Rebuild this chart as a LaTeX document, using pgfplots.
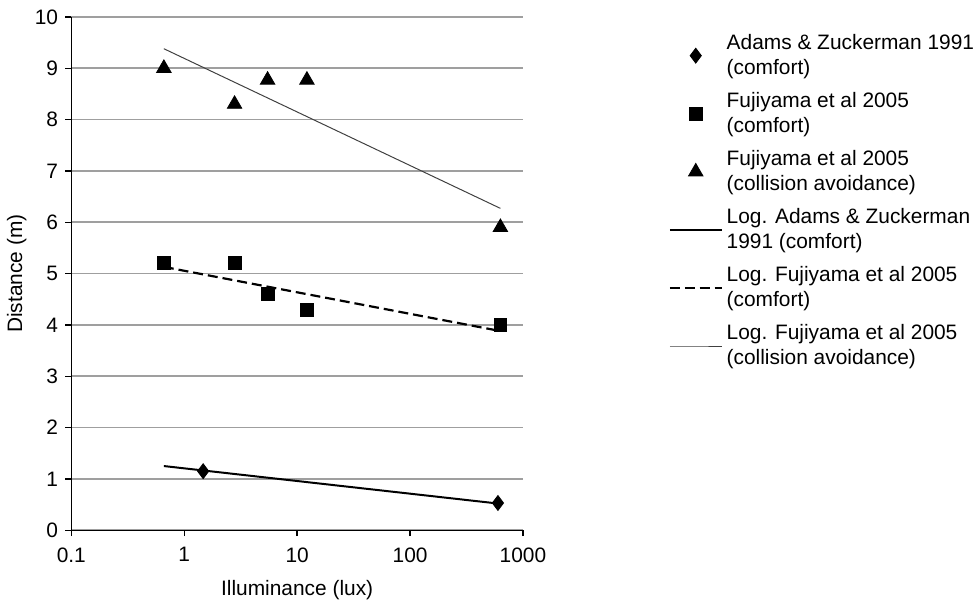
\documentclass[border=0pt]{standalone}
\usepackage{fontspec}
\setmainfont{Liberation Sans}
\usepackage{pgfplots}
\pgfplotsset{compat=1.18}
\begin{document}
\fontsize{10.5}{12.5}\selectfont
\begin{tikzpicture}
\begin{axis}[
    scale only axis,
    width=227pt, height=258pt,
    xmode=log, log basis x=10,
    xmin=0.1, xmax=1000, ymin=0, ymax=10,
    xtick={0.1,1,10,100,1000},
    xticklabels={0.1,1,10,100,1000},
    ytick={0,1,...,10},
    xminorticks=false,
    axis x line*=bottom, axis y line*=left,
    axis line style={-, line width=0.7pt},
    tick align=outside, major tick length=3pt,
    tick style={black, line width=0.7pt},
    ymajorgrids, grid style={gray!75, line width=0.8pt},
    /pgf/number format/assume math mode=true,
    ticklabel style={font=\fontsize{10.5}{12}\selectfont},
    xticklabel style={yshift=-2pt},
    xlabel={Illuminance (lux)}, ylabel={Distance (m)},
    label style={font=\fontsize{10.5}{12}\selectfont},
    ylabel shift=-3pt, xlabel shift=2pt,
    legend style={at={(1.322,0.975)}, anchor=north west, draw=none, fill=none,
        cells={align=left, anchor=west, inner xsep=0.5pt}, row sep=3.5pt, inner sep=0pt,
        font=\fontsize{10.5}{12.5}\selectfont},
    legend image code/.code={\draw[mark repeat=2,mark phase=2] plot coordinates {(0pt,0pt) (13pt,0pt) (26pt,0pt)};},
]
\addplot[only marks, mark=diamond*, mark size=3.75pt, black] coordinates {(1.47,1.15) (600,0.53)};
\addlegendentry{Adams \& Zuckerman 1991\\(comfort)}
\addplot[only marks, mark=square*, mark size=3.25pt, black] coordinates {(0.66,5.2) (2.79,5.2) (5.47,4.6) (12.2,4.3) (631,4.0)};
\addlegendentry{Fujiyama et al 2005\\(comfort)}
\addplot[only marks, mark=triangle*, mark size=4.2pt, black] coordinates {(0.66,9.0) (2.79,8.3) (5.47,8.77) (12.2,8.77) (631,5.9)};
\addlegendentry{Fujiyama et al 2005\\(collision avoidance)}
\addplot[black, line width=1pt, no marks] coordinates {(0.66,1.25) (600,0.52)};
\addlegendentry{Log. Adams \& Zuckerman\\1991 (comfort)}
\addplot[black, line width=1.1pt, no marks, dash pattern=on 5pt off 2.5pt] coordinates {(0.66,5.13) (631,3.88)};
\addlegendentry{Log. Fujiyama et al 2005\\(comfort)}
\addplot[black!75, line width=0.5pt, no marks] coordinates {(0.66,9.38) (631,6.27)};
\addlegendentry{Log. Fujiyama et al 2005\\(collision avoidance)}
\end{axis}
\path ([shift={(-34pt,-32.5pt)}]current axis.south west) rectangle ([shift={(228pt,8.5pt)}]current axis.north east);
\end{tikzpicture}
\end{document}
